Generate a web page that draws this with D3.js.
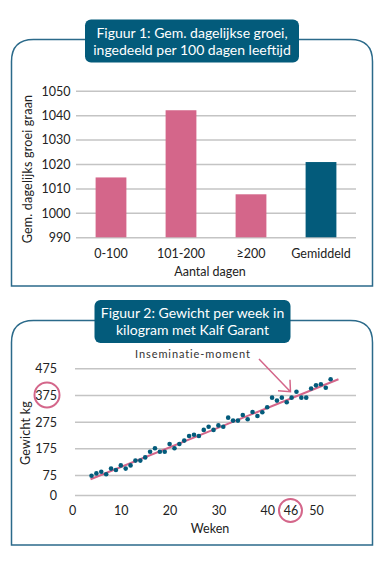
<!DOCTYPE html>
<html lang="nl">
<head>
  <meta charset="UTF-8">
  <title>Kalf Garant</title>
  <script src="https://d3js.org/d3.v7.min.js"></script>
<style>
  :root {
    --text-color: #222;
    --pink: #d4668a;
    --blue: #035b7b;
    --grid: #c4c4c4;
  }
  body { margin: 0; background: #fff; }
  * { font-family: "Lato", sans-serif; }
  .tick text { font-size: 12.5px; fill: var(--text-color); }
  .axislabel { font-size: 12.5px; fill: var(--text-color); }
  .figuretitle { font-size: 14px; fill: #fff; }
</style>
</head>
<body>
<div id="chart"></div>
<script>
  // ## Data
  const groupLabels = ["0-100", "101-200", "≥200", "Gemiddeld"];
  const groupValues = [1014.5, 1042, 1007.6, 1020.8];
  const groupColors = ["#d4668a", "#d4668a", "#d4668a", "#035b7b"];
  const growthTicks = [990, 1000, 1010, 1020, 1030, 1040, 1050];

  const weeks = [4, 5, 6, 7, 8, 9, 10, 11, 12, 13, 14, 15, 16, 17, 18, 19, 20, 21, 22, 23, 24, 25, 26, 27, 28,
    29, 30, 31, 32, 33, 34, 35, 36, 37, 38, 39, 40, 41, 42, 43, 44, 45, 46, 47, 48, 49, 50, 51, 52, 53];
  const weights = [72, 81, 87, 78, 99, 94, 111, 99, 111, 129, 129, 141, 162, 175, 162, 162, 191, 175, 191, 204,
    221, 226, 221, 244, 256, 244, 261, 256, 290, 279, 279, 300, 284, 311, 296, 310, 329, 365, 354, 365,
    348, 365, 387, 365, 365, 399, 411, 415, 402, 434];
  const trendWeeks = [3.8, 54.6];
  const trendWeights = [59, 434];
  const weightTicks = [0, 75, 175, 275, 375, 475];
  const weekTicks = [0, 10, 20, 30, 40, 46, 50];
  const inseminationWeek = 46;
  const circledWeight = 375;

  const W = 386, H = 568;
  const svg = d3.select("#chart").append("svg")
    .attr("width", W).attr("height", H);

  // ## Panel frame + title box
  function drawPanel(top, bottom, boxX, boxY, boxW, boxH, lines) {
    const r = 22, l = 11.5, rgt = 372.5;
    svg.append("path")
      .attr("d", `M${l},${bottom} L${l},${top + r} Q${l},${top} ${l + r},${top}
                  L${rgt - r},${top} Q${rgt},${top} ${rgt},${top + r} L${rgt},${bottom} Z`)
      .attr("fill", "none")
      .attr("stroke", "#2b6a8a")
      .attr("stroke-width", 1.5);
    svg.append("rect")
      .attr("x", boxX).attr("y", boxY)
      .attr("width", boxW).attr("height", boxH)
      .attr("rx", 6)
      .attr("fill", "#035b7b");
    lines.forEach((t, i) => {
      svg.append("text")
        .attr("class", "figuretitle")
        .attr("x", boxX + boxW / 2)
        .attr("y", boxY + 18 + i * 17)
        .attr("text-anchor", "middle")
        .text(t);
    });
  }

  drawPanel(39.5, 286, 85, 19.5, 214, 43,
    ["Figuur 1: Gem. dagelijkse groei,", "ingedeeld per 100 dagen leeftijd"]);
  drawPanel(320.5, 545, 94.5, 300, 196, 43,
    ["Figuur 2: Gewicht per week in", "kilogram met Kalf Garant"]);

  // ## Figure 1: bar chart
  const x1 = d3.scaleBand()
    .domain(groupLabels)
    .range([76, 356])
    .paddingInner(0.56)
    .paddingOuter(0.28);
  const y1 = d3.scaleLinear()
    .domain([990, 1050])
    .range([237.3, 90.7]);

  const g1 = svg.append("g");

  g1.append("g")
    .attr("transform", "translate(76,0)")
    .call(d3.axisRight(y1).tickValues(growthTicks).tickSize(280).tickFormat(d => d))
    .call(g => g.select(".domain").remove())
    .call(g => g.selectAll(".tick line").attr("stroke", "#c4c4c4").attr("stroke-width", 1.5))
    .call(g => g.selectAll(".tick text").attr("x", -5.5).attr("text-anchor", "end").attr("dy", "0.35em"));

  g1.selectAll(".bar")
    .data(groupLabels)
    .join("rect")
    .attr("class", "bar")
    .attr("x", d => x1(d))
    .attr("width", x1.bandwidth())
    .attr("y", (d, i) => y1(groupValues[i]))
    .attr("height", (d, i) => y1(990) - y1(groupValues[i]))
    .attr("fill", (d, i) => groupColors[i]);

  g1.append("g")
    .attr("transform", `translate(0,${y1(990)})`)
    .call(d3.axisBottom(x1).tickSize(0).tickPadding(12))
    .call(g => g.select(".domain").remove());

  svg.append("text")
    .attr("class", "axislabel")
    .attr("x", 210).attr("y", 275.5)
    .attr("text-anchor", "middle")
    .text("Aantal dagen");

  svg.append("text")
    .attr("class", "axislabel")
    .attr("transform", "translate(32,169) rotate(-90)")
    .attr("text-anchor", "middle")
    .style("letter-spacing", "0.2px")
    .text("Gem. dagelijks groei graan");

  // ## Figure 2: weight per week
  const x2 = d3.scaleLinear()
    .domain([0, 50])
    .range([72, 316]);
  const y2 = d3.scaleLinear()
    .domain([0, 475])
    .range([495, 368.3]);

  const g2 = svg.append("g");

  g2.append("g")
    .attr("transform", "translate(75,0)")
    .call(d3.axisRight(y2).tickValues(weightTicks).tickSize(281).tickFormat(d => d))
    .call(g => g.select(".domain").remove())
    .call(g => g.selectAll(".tick line").attr("stroke", "#c4c4c4").attr("stroke-width", 1.5))
    .call(g => g.selectAll(".tick text").attr("x", -18).attr("text-anchor", "end").attr("dy", "0.35em"));

  g2.append("g")
    .attr("transform", `translate(0,${y2(0)})`)
    .call(d3.axisBottom(x2).tickValues(weekTicks).tickSize(0).tickPadding(11.5).tickFormat(d => d))
    .call(g => g.select(".domain").remove())
    .call(g => g.selectAll(".tick text").filter(d => d === inseminationWeek).attr("dx", -6));

  svg.append("text")
    .attr("class", "axislabel")
    .attr("x", 210).attr("y", 532.5)
    .attr("text-anchor", "middle")
    .text("Weken");

  svg.append("text")
    .attr("class", "axislabel")
    .attr("transform", "translate(30,433) rotate(-90)")
    .attr("text-anchor", "middle")
    .style("letter-spacing", "0.2px")
    .text("Gewicht kg");

  // trend line
  g2.append("path")
    .datum(trendWeeks.map((w, i) => [w, trendWeights[i]]))
    .attr("fill", "none")
    .attr("stroke", "#d4668a")
    .attr("stroke-width", 2)
    .attr("d", d3.line().x(d => x2(d[0])).y(d => y2(d[1])));

  // dots
  g2.selectAll(".dot")
    .data(weeks)
    .join("circle")
    .attr("class", "dot")
    .attr("cx", d => x2(d))
    .attr("cy", (d, i) => y2(weights[i]))
    .attr("r", 2.3)
    .attr("fill", "#035b7b");

  // ## Annotations
  const insemY = y2(weights[weeks.indexOf(inseminationWeek)]);
  const tip = [x2(inseminationWeek) - 6, insemY];
  svg.append("path")
    .attr("d", `M259,359 L${tip[0]},${tip[1]} M${tip[0] - 12.5},${tip[1] - 1} L${tip[0]},${tip[1]} L${tip[0] - 0.5},${tip[1] - 12}`)
    .attr("fill", "none")
    .attr("stroke", "#d4668a")
    .attr("stroke-width", 1.5);

  svg.append("text")
    .attr("x", 193).attr("y", 358)
    .attr("text-anchor", "middle")
    .style("font-size", "11px")
    .style("letter-spacing", "0.9px")
    .attr("fill", "#333")
    .text("Inseminatie-moment");

  svg.append("circle")
    .attr("cx", 47).attr("cy", y2(circledWeight))
    .attr("r", 12.5)
    .attr("fill", "none")
    .attr("stroke", "#d4668a")
    .attr("stroke-width", 2);

  svg.append("circle")
    .attr("cx", x2(inseminationWeek) - 6).attr("cy", 510.5)
    .attr("r", 11.5)
    .attr("fill", "none")
    .attr("stroke", "#d4668a")
    .attr("stroke-width", 2);
</script>
</body>
</html>
